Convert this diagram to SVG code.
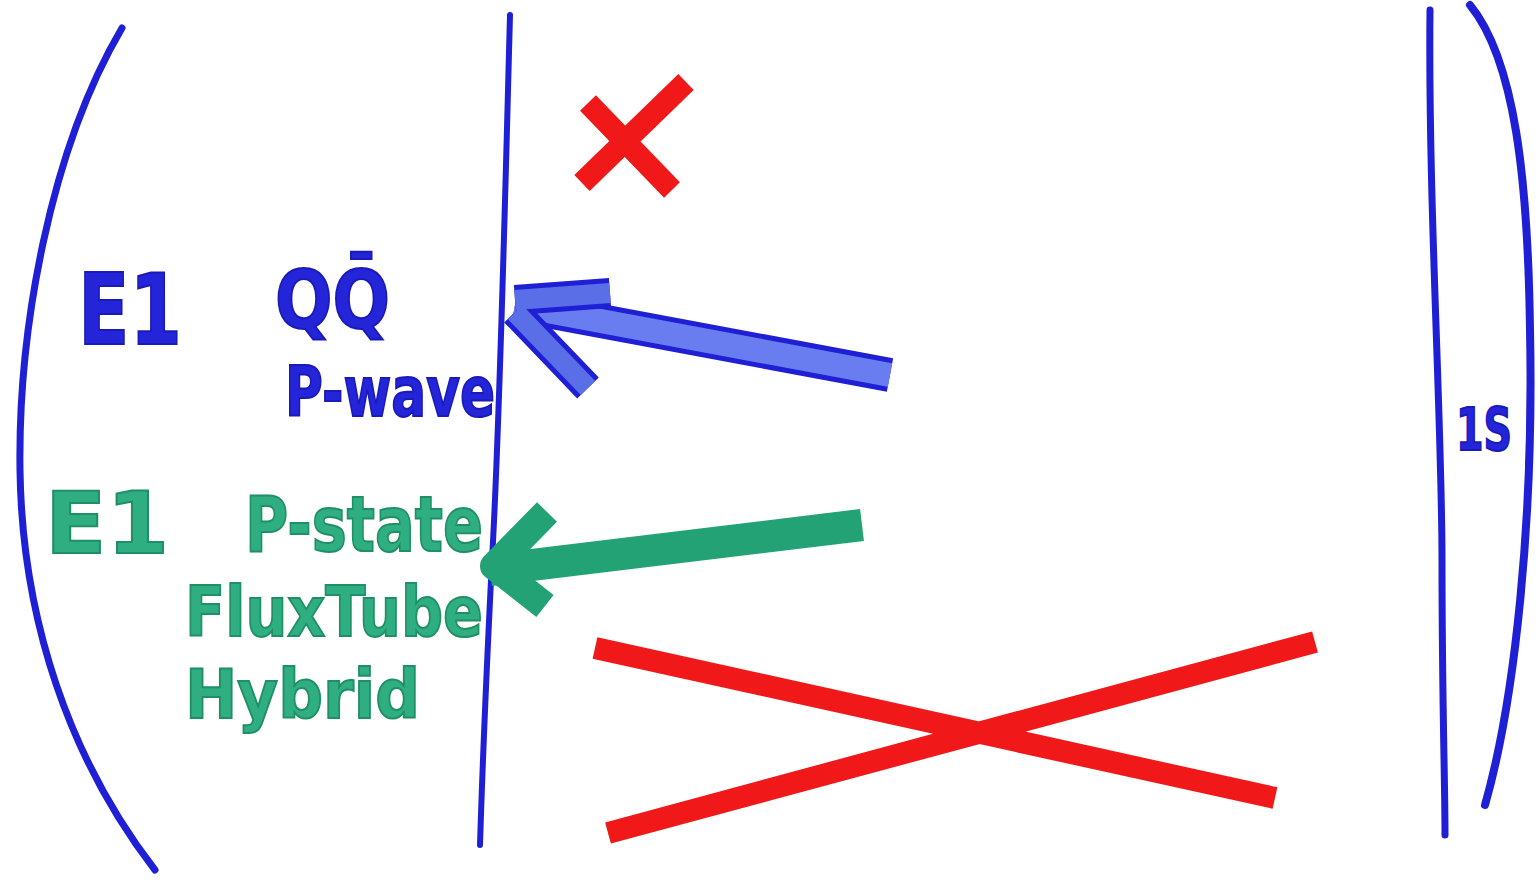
<svg xmlns="http://www.w3.org/2000/svg" width="1538" height="880" viewBox="0 0 1538 880">
<style>
.bl{fill:none;stroke:#1f1fd6;stroke-linecap:round;stroke-linejoin:round}
.rd{fill:none;stroke:#f01818;stroke-width:22;stroke-linecap:butt}
.gr{fill:none;stroke:#23a276;stroke-linecap:butt;stroke-linejoin:round}
.tb{font-family:"DejaVu Sans",sans-serif;font-weight:bold;fill:#2424d8;stroke:#1a1ab8;stroke-width:2}
.tg{font-family:"DejaVu Sans",sans-serif;font-weight:bold;fill:#2fae82;stroke:#1f8f66;stroke-width:2}
</style>
<rect width="1538" height="880" fill="#ffffff"/>
<g id="left-bracket"><path class="bl" stroke-width="7" d="M122,28 C50,150 18,330 20,470 C22,620 70,760 155,870"/></g>
<g id="divider"><path class="bl" stroke-width="6" d="M510,15 C505,200 500,420 492,560 C486,680 482,780 480,845"/></g>
<g id="right-line"><path class="bl" stroke-width="7" d="M1430,10 C1428,200 1442,420 1442,560 C1442,700 1445,780 1445,835"/></g>
<g id="right-bracket"><path class="bl" stroke-width="8" d="M1470,5 C1515,60 1528,180 1530,330 C1534,520 1515,700 1485,805"/></g>
<g id="label-1S"><text class="tb" x="1456" y="450" font-size="58" textLength="56" lengthAdjust="spacingAndGlyphs">1S</text></g>
<g id="cross-small"><path class="rd" d="M588,103 L672,190 M686,82 L582,183"/></g>
<g id="cross-big"><path class="rd" d="M595,648 L1275,798 M608,833 L1315,642"/></g>
<g id="blue-text">
<text class="tb" x="78" y="344" font-size="98" textLength="104" lengthAdjust="spacingAndGlyphs">E1</text>
<text class="tb" x="275" y="328" font-size="80" textLength="115" lengthAdjust="spacingAndGlyphs">QQ̄</text>
<text class="tb" x="285" y="416" font-size="70" textLength="210" lengthAdjust="spacingAndGlyphs">P-wave</text>
</g>
<g id="green-text">
<text class="tg" x="45" y="553" font-size="86" textLength="124" lengthAdjust="spacingAndGlyphs">E1</text>
<text class="tg" x="245" y="551" font-size="76" textLength="238" lengthAdjust="spacingAndGlyphs">P-state</text>
<text class="tg" x="185" y="636" font-size="70" textLength="298" lengthAdjust="spacingAndGlyphs">FluxTube</text>
<text class="tg" x="185" y="718" font-size="68" textLength="235" lengthAdjust="spacingAndGlyphs">Hybrid</text>
</g>
<g id="connectors">
<g id="blue-arrow">
<path d="M890,375 L515,305" fill="none" stroke="#1f1fd6" stroke-width="34"/>
<path d="M890,375 L515,305" fill="none" stroke="#6a7df0" stroke-width="24"/>
<path d="M515,300 L610,293 M515,312 L588,388" fill="none" stroke="#1f1fd6" stroke-width="30" stroke-linecap="butt"/>
<path d="M515,300 L610,293 M515,312 L588,388" fill="none" stroke="#5a6ee8" stroke-width="20" stroke-linecap="butt"/>
</g>
<g id="green-arrow">
<path class="gr" stroke-width="32" d="M862,525 L490,570"/>
<path class="gr" stroke-width="28" d="M547,512 L494,566 L545,606"/>
</g>
</g>
</svg>
